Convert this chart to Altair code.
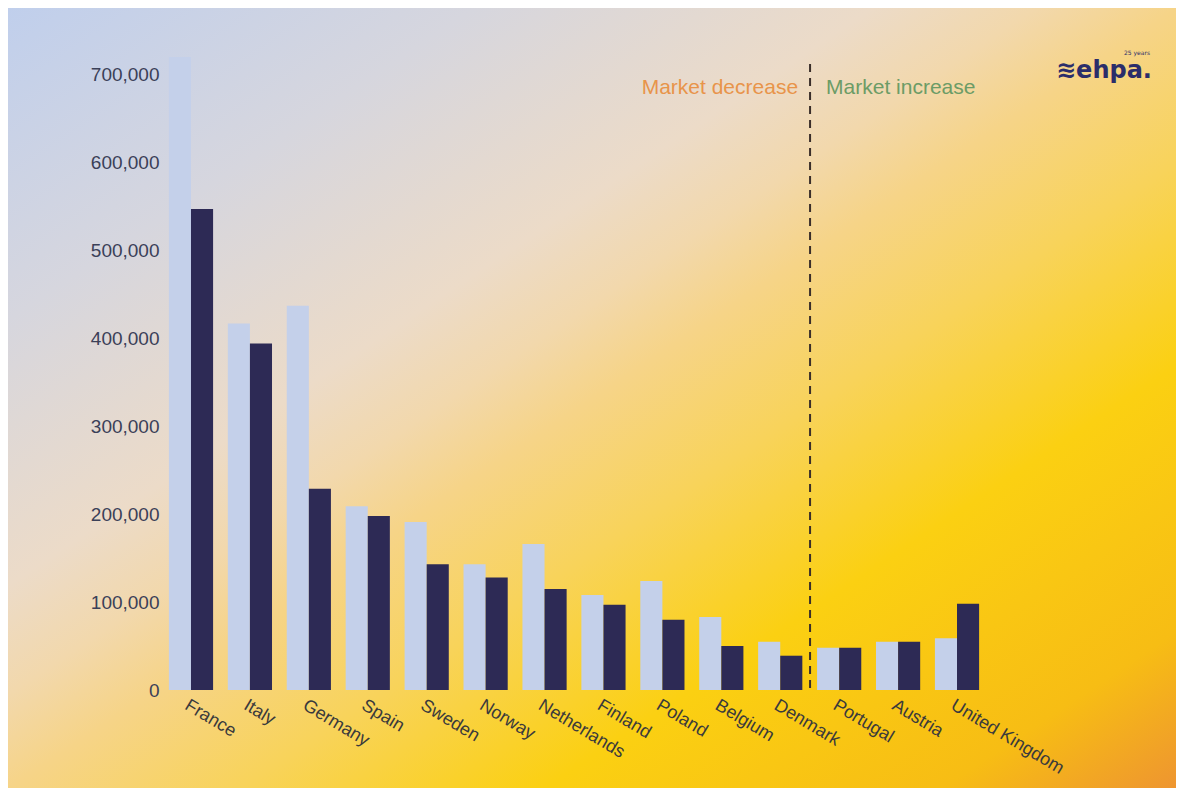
import altair as alt
import pandas as pd

countries = ["France", "Italy", "Germany", "Spain", "Sweden", "Norway", "Netherlands",
             "Finland", "Poland", "Belgium", "Denmark", "Portugal", "Austria", "United Kingdom"]
sales_2023 = [720000, 417000, 437000, 209000, 191000, 143000, 166000,
              108000, 124000, 83000, 55000, 48000, 55000, 59000]
sales_2024 = [547000, 394000, 229000, 198000, 143000, 128000, 115000,
              97000, 80000, 50000, 39000, 48000, 55000, 98000]
years = ["2023", "2024"]
y_ticks = [0, 100000, 200000, 300000, 400000, 500000, 600000, 700000]
divider_country = "Portugal"
annotations = ["Market decrease", "Market increase"]

rows = []
for c, a, b in zip(countries, sales_2023, sales_2024):
    rows.append({"country": c, "year": years[0], "sales": a})
    rows.append({"country": c, "year": years[1], "sales": b})
df = pd.DataFrame(rows)

W, H = 822, 633
PL, PT = 155, 49
PR, PB = 1168 - PL - W, 780 - PT - H

xscale = alt.Scale(domain=countries, paddingInner=0.25, paddingOuter=0.1)
yscale = alt.Scale(domain=[0, 720000], nice=False)

grad = alt.LinearGradient(
    gradient="linear", x1=0, y1=0, x2=1, y2=1,
    stops=[
        alt.GradientStop(color="#c0cfec", offset=0.0),
        alt.GradientStop(color="#d6d6de", offset=0.2),
        alt.GradientStop(color="#ecdbc8", offset=0.37),
        alt.GradientStop(color="#f2d8ac", offset=0.44),
        alt.GradientStop(color="#f6d488", offset=0.5),
        alt.GradientStop(color="#f8d35a", offset=0.6),
        alt.GradientStop(color="#fbd012", offset=0.73),
        alt.GradientStop(color="#f7bd14", offset=0.9),
        alt.GradientStop(color="#ee9530", offset=1.0),
    ],
)

bg = alt.Chart(pd.DataFrame({"k": [0]})).mark_rect(color=grad).encode(
    x=alt.value(-PL), x2=alt.value(W + PR), y=alt.value(-PT), y2=alt.value(H + PB)
)

bars = alt.Chart(df).mark_bar().encode(
    x=alt.X("country:N", scale=xscale,
            axis=alt.Axis(title=None, labelAngle=31, labelAlign="left", labelBaseline="top",
                          labelFont="Liberation Sans", labelFontSize=18, labelColor="#3a3a3c",
                          labelPadding=6, ticks=False, domain=False, zindex=1)),
    xOffset=alt.XOffset("year:N", scale=alt.Scale(domain=years)),
    y=alt.Y("sales:Q", scale=yscale,
            axis=alt.Axis(title=None, values=y_ticks, format=",.0f", labelFont="Liberation Sans",
                          labelFontSize=19, labelColor="#3b4058", labelPadding=4,
                          ticks=False, domain=False, grid=False, zindex=1)),
    color=alt.Color("year:N", scale=alt.Scale(domain=years, range=["#c4d0ea", "#2d2a55"]),
                    legend=None),
)

rule_df = pd.DataFrame({"country": [divider_country], "top": [712000], "bottom": [0]})
rule = alt.Chart(rule_df).mark_rule(strokeDash=[8, 6], strokeWidth=2, color="#3a2e2a", xOffset=-7).encode(
    x=alt.X("country:N", scale=xscale, bandPosition=0),
    y=alt.Y("top:Q", scale=yscale),
    y2="bottom:Q",
)

ann_df = pd.DataFrame({"country": [divider_country], "y": [684500], "t1": [annotations[0]], "t2": [annotations[1]]})
t_dec = alt.Chart(ann_df).mark_text(align="right", baseline="middle", dx=-19, fontSize=21,
                                     font="Liberation Sans", color="#e8944a").encode(
    x=alt.X("country:N", scale=xscale, bandPosition=0),
    y=alt.Y("y:Q", scale=yscale),
    text="t1:N",
)
t_inc = alt.Chart(ann_df).mark_text(align="left", baseline="middle", dx=9, fontSize=21,
                                     font="Liberation Sans", color="#6c9c66").encode(
    x=alt.X("country:N", scale=xscale, bandPosition=0),
    y=alt.Y("y:Q", scale=yscale),
    text="t2:N",
)

logo_df = pd.DataFrame({"t": ["≋ehpa."], "s": ["25 years"]})
logo = alt.Chart(logo_df).mark_text(align="left", baseline="middle", fontSize=24, fontWeight="bold",
                                     font="DejaVu Sans", color="#2b2d6a").encode(
    x=alt.value(1056 - 8 - PL), y=alt.value(71 - 8 - PT), text="t:N"
)
logo_small = alt.Chart(logo_df).mark_text(align="left", baseline="middle", fontSize=6,
                                           font="DejaVu Sans", color="#2b2d6a").encode(
    x=alt.value(1124 - 8 - PL), y=alt.value(53 - 8 - PT), text="s:N"
)

chart = alt.layer(bg, bars, rule, t_dec, t_inc, logo, logo_small).properties(
    width=W, height=H,
    padding={"left": PL, "top": PT, "right": PR, "bottom": PB},
    autosize=alt.AutoSizeParams(type="none"),
    background="white",
).configure_view(strokeWidth=0)

chart.save("out.html", embed_options={"renderer": "svg", "actions": False})
